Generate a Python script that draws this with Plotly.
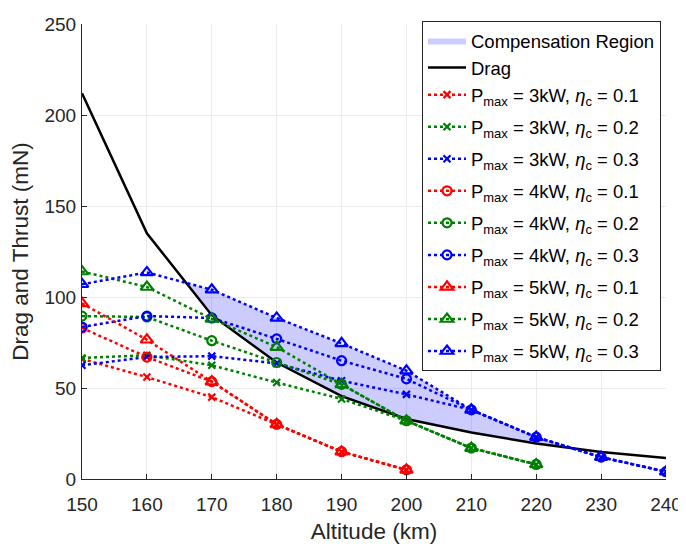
import numpy as np
import plotly.graph_objects as go

altitude = [150, 160, 170, 180, 190, 200, 210, 220, 230, 240]
drag = [212, 135, 90, 64, 45.5, 33, 25.5, 19.5, 14.8, 11.5]

# thrust series (shorter lists stop where the curve ends)
p3_e01 = [66, 56, 45, 30, 15, 5]
p3_e02 = [66.5, 68, 62.5, 53, 44, 32, 17, 8]
p3_e03 = [62.5, 67, 67.5, 63.5, 54, 46.5, 38, 23, 12, 4]
p4_e01 = [83, 67, 53.5, 30, 15, 5]
p4_e02 = [89.5, 89, 76, 64, 52, 32, 17, 8]
p4_e03 = [83.5, 89.5, 88.5, 77, 65, 55, 38, 23, 12, 4]
p5_e01 = [96.5, 76.5, 53.5, 30, 15, 5]
p5_e02 = [114, 105.5, 88, 72.5, 52, 32, 17, 8]
p5_e03 = [107, 113.5, 104, 88.5, 74.5, 59.5, 38, 23, 12, 4]

series = [
    (p3_e01, "3kW", "0.1", "red", "x-thin", 7),
    (p3_e02, "3kW", "0.2", "green", "x-thin", 7),
    (p3_e03, "3kW", "0.3", "blue", "x-thin", 7),
    (p4_e01, "4kW", "0.1", "red", "circle-open", 9),
    (p4_e02, "4kW", "0.2", "green", "circle-open", 9),
    (p4_e03, "4kW", "0.3", "blue", "circle-open", 9),
    (p5_e01, "5kW", "0.1", "red", "triangle-up-open", 11),
    (p5_e02, "5kW", "0.2", "green", "triangle-up-open", 11),
    (p5_e03, "5kW", "0.3", "blue", "triangle-up-open", 11),
]
colors = {"red": "#FF0000", "green": "#008000", "blue": "#0000FF"}

# compensation region: where max thrust exceeds drag
x_arr = np.array(altitude, dtype=float)
t_arr = np.array(p5_e03, dtype=float)
d_arr = np.array(drag, dtype=float)
diff = t_arr - d_arr
xs_up, ys_up, ys_dn = [], [], []
for i in range(len(x_arr)):
    if i > 0 and np.sign(diff[i]) != np.sign(diff[i - 1]):
        f = diff[i - 1] / (diff[i - 1] - diff[i])
        xc = x_arr[i - 1] + f * (x_arr[i] - x_arr[i - 1])
        yc = d_arr[i - 1] + f * (d_arr[i] - d_arr[i - 1])
        xs_up.append(xc); ys_up.append(yc); ys_dn.append(yc)
    if diff[i] > 0:
        xs_up.append(x_arr[i]); ys_up.append(t_arr[i]); ys_dn.append(d_arr[i])
poly_x = xs_up + xs_up[::-1]
poly_y = ys_up + ys_dn[::-1]

fig = go.Figure()
fig.add_trace(go.Scatter(
    x=poly_x, y=poly_y, fill="toself", mode="lines",
    line=dict(width=0, color="rgba(0,0,0,0)"),
    fillcolor="rgba(0,0,255,0.2)", name="Compensation Region",
    legendgroup="g0",
))
fig.add_trace(go.Scatter(
    x=altitude, y=drag, mode="lines", line=dict(color="black", width=2.5),
    name="Drag", legendgroup="g0",
))
for k, (vals, p, e, c, sym, sz) in enumerate(series):
    fig.add_trace(go.Scatter(
        x=altitude[:len(vals)], y=vals, mode="lines+markers",
        line=dict(color=colors[c], width=2.5, dash="dot"),
        marker=dict(symbol=sym, size=sz, color=colors[c],
                    line=dict(color=colors[c], width=2.2)),
        name=f"P<sub>max</sub> = {p}, <i>η</i><sub>c</sub> = {e}",
        legendgroup="g0" if k == 0 else f"g{k}",
    ))

font_family = "Liberation Sans, Arial, sans-serif"
fig.update_layout(
    width=686, height=554,
    margin=dict(l=74, r=28, t=16, b=83),
    plot_bgcolor="white", paper_bgcolor="white",
    font=dict(family=font_family, size=19, color="#262626"),
    showlegend=True,
    legend=dict(
        x=(661 - 82) / 584, y=1.0 + 3 / 455, xanchor="right", yanchor="top",
        bgcolor="white", bordercolor="#262626", borderwidth=1,
        font=dict(family=font_family, size=18.5, color="black"),
        tracegroupgap=5, itemwidth=38, maxheight=600,
    ),
    xaxis=dict(
        range=[150, 240], dtick=10, tick0=150, automargin=False,
        showgrid=True, gridcolor="#ebebeb", gridwidth=1,
        showline=True, linecolor="#262626", linewidth=1,
        ticks="inside", ticklen=5, tickcolor="#262626",
        zeroline=False, tickfont=dict(size=19), ticklabelstandoff=8,
        title=dict(text="Altitude (km)", font=dict(size=22.5), standoff=9),
    ),
    yaxis=dict(
        range=[0, 250], dtick=50, automargin=False,
        showgrid=True, gridcolor="#ebebeb", gridwidth=1,
        showline=True, linecolor="#262626", linewidth=1,
        ticks="inside", ticklen=5, tickcolor="#262626",
        zeroline=False, tickfont=dict(size=19), ticklabelstandoff=1,
        title=dict(text="Drag and Thrust (mN)", font=dict(size=22.5), standoff=11),
    ),
)
fig.write_html("out.html")
